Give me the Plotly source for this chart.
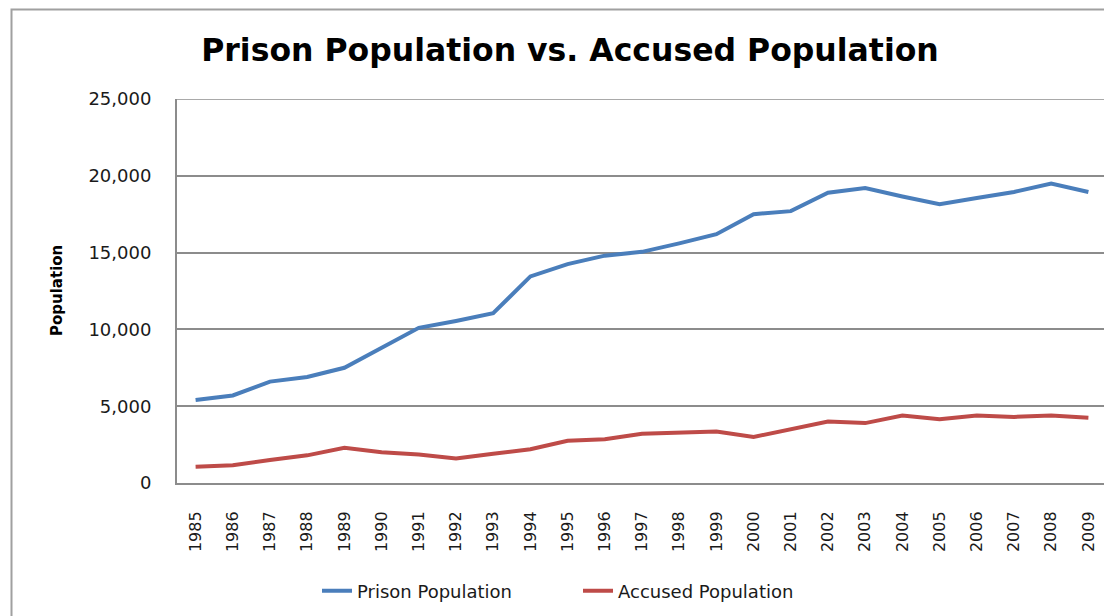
import plotly.graph_objects as go

years = [str(y) for y in range(1985, 2010)]
prison_population = [5400, 5700, 6600, 6900, 7500, 8800, 10100, 10550, 11050, 13450,
                      14250, 14800, 15050, 15600, 16200, 17500, 17700, 18900, 19200, 18650,
                      18150, 18550, 18950, 19500, 18950]
accused_population = [1050, 1150, 1500, 1800, 2300, 2000, 1850, 1600, 1900, 2200,
                      2750, 2850, 3200, 3250, 3350, 3000, 3500, 4000, 3900, 4400,
                      4150, 4400, 4300, 4400, 4250]
y_ticks = [0, 5000, 10000, 15000, 20000, 25000]

# page body has an 8px margin; work in screen pixels and shift
OFF = 8
W, H = 1112 - OFF, 616 - OFF
L, R, T, B = 177 - OFF, 1107 - OFF, 99 - OFF, 483 - OFF
pw, ph = R - L, B - T


def px_x(sx):
    return (sx - OFF - L) / pw


def px_y(sy):
    return (B - (sy - OFF)) / ph


fig = go.Figure()
fig.add_trace(go.Scatter(x=years, y=prison_population, mode="lines", name="Prison Population",
                         line=dict(color="#4A7EBB", width=4)))
fig.add_trace(go.Scatter(x=years, y=accused_population, mode="lines", name="Accused Population",
                         line=dict(color="#BE4B48", width=4)))

font_main = "DejaVu Sans, Verdana, sans-serif"
grid_col = "#8C8C8C"

fig.update_layout(
    width=W, height=H,
    margin=dict(l=L, r=W - R, t=T, b=H - B),
    paper_bgcolor="white", plot_bgcolor="white",
    title=dict(text="<b>Prison Population vs. Accused Population</b>",
               x=(570 - OFF) / W, xref="container", xanchor="center",
               y=1 - (50 - OFF) / H, yref="container", yanchor="middle",
               font=dict(family=font_main, size=31.5, color="black")),
    showlegend=True,
    legend=dict(orientation="h", x=px_x(317), xanchor="left",
                y=px_y(591), yanchor="middle",
                font=dict(family=font_main, size=18, color="#1a1a1a"),
                itemwidth=30, entrywidth=216, entrywidthmode="pixels",
                tracegroupgap=0, bgcolor="rgba(0,0,0,0)"),
    xaxis=dict(type="category", tickangle=-90, showgrid=False, showline=True,
               linecolor=grid_col, linewidth=2, ticks="", ticklabelstandoff=20,
               tickfont=dict(family=font_main, size=16, color="#1a1a1a"),
               range=[-0.5, len(years) - 0.5], fixedrange=True),
    yaxis=dict(range=[0, 25000], tickvals=y_ticks, tickformat=",", showgrid=True,
               gridcolor=grid_col, gridwidth=1.5, showline=True, linecolor=grid_col,
               linewidth=2, ticks="", ticklabelstandoff=20, zeroline=False,
               tickfont=dict(family=font_main, size=18, color="#1a1a1a")),
    annotations=[dict(text="<b>Population</b>", textangle=-90, xref="paper", yref="paper",
                      x=px_x(57), y=0.5, xanchor="center", yanchor="middle",
                      showarrow=False, font=dict(family=font_main, size=15, color="black"))],
    shapes=[
        dict(type="rect", xref="paper", yref="paper",
             x0=px_x(11.5), x1=px_x(1140),
             y0=px_y(650), y1=px_y(9.5),
             line=dict(color="#A0A0A0", width=2), layer="below"),
        dict(type="line", xref="paper", yref="y", x0=0, x1=1,
             y0=y_ticks[-1], y1=y_ticks[-1],
             line=dict(color=grid_col, width=1.5), layer="below"),
    ],
)

fig.write_html("out.html")
